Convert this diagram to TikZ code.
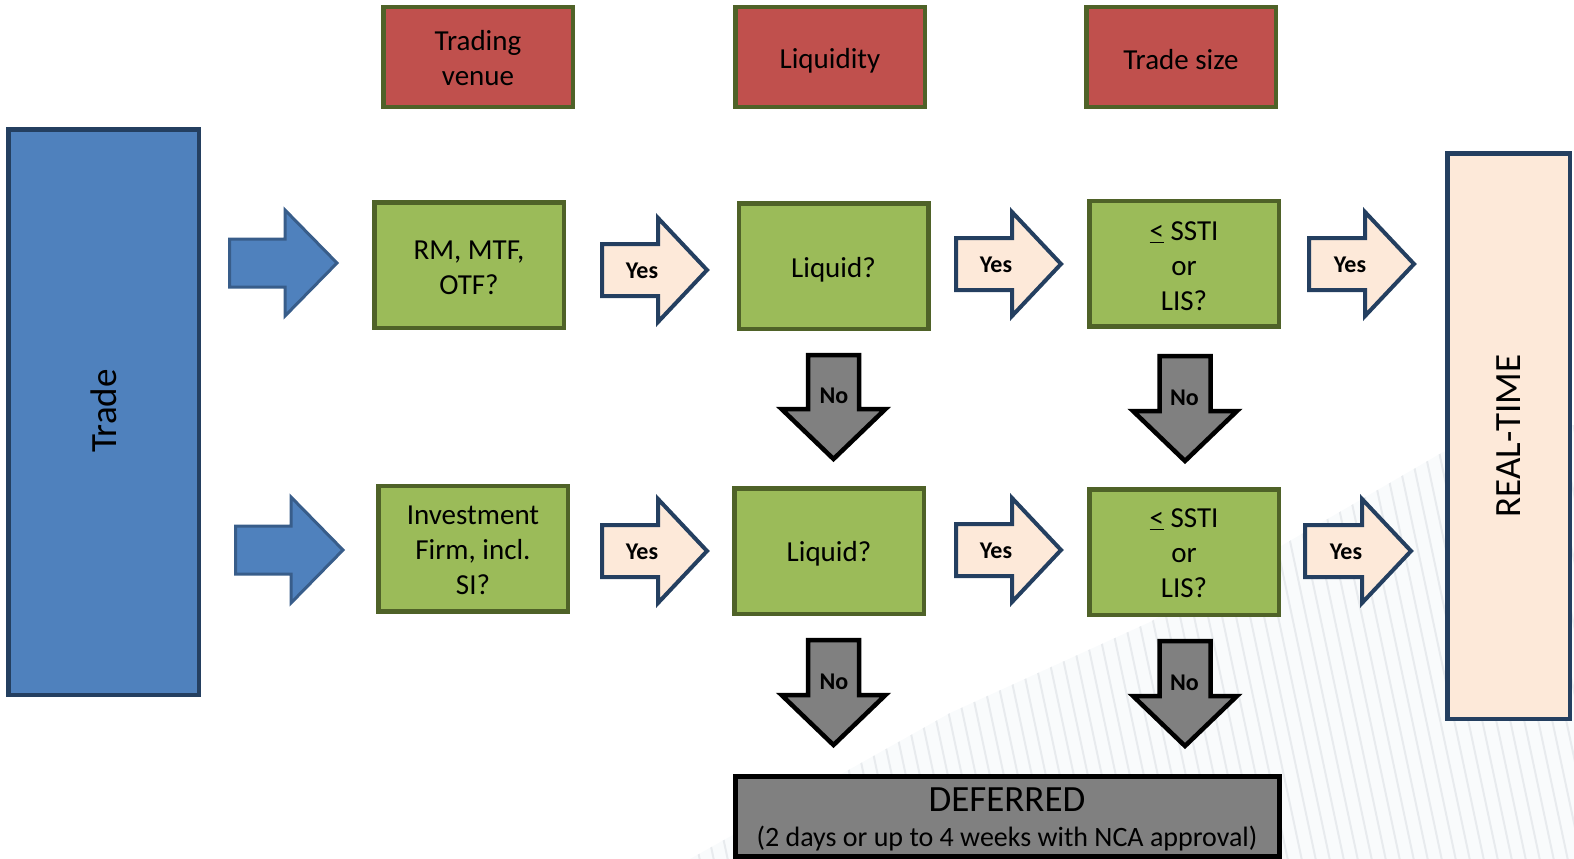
\documentclass[tikz,border=0pt]{standalone}
\usepackage{fontspec}
\setmainfont{Carlito}
\definecolor{hdrred}{HTML}{C0504D}
\definecolor{grnfill}{HTML}{9BBB59}
\definecolor{grnline}{HTML}{4F6228}
\definecolor{bluefill}{HTML}{4F81BD}
\definecolor{blueline}{HTML}{243F60}
\definecolor{bluearr}{HTML}{385D8A}
\definecolor{peach}{HTML}{FDE9D9}
\definecolor{navy}{HTML}{243F60}
\definecolor{greyfill}{HTML}{808080}
\definecolor{bgtint}{HTML}{F9FBFC}
\definecolor{hatchcol}{HTML}{E8EBEE}
\newcommand\RArr[7]{\draw[#1] (#2,#4-#5) -- (#3-#7,#4-#5) -- (#3-#7,#4-#6) -- (#3,#4) -- (#3-#7,#4+#6) -- (#3-#7,#4+#5) -- (#2,#4+#5) -- cycle;}
\newcommand\DArr[7]{\draw[#1] (#2-#5,#3) -- (#2-#5,#4-#7) -- (#2-#6,#4-#7) -- (#2,#4) -- (#2+#6,#4-#7) -- (#2+#5,#4-#7) -- (#2+#5,#3) -- cycle;}
\tikzset{
  txt/.style={font=\fontsize{29}{35}\selectfont, align=center, inner sep=0pt},
  hdr/.style={draw=grnline, fill=hdrred, line width=4.5pt, minimum width=189.5pt, minimum height=100pt, inner sep=0pt},
  qbox/.style={draw=grnline, fill=grnfill, line width=4.5pt, minimum width=189.5pt, minimum height=125.5pt, inner sep=0pt},
  bluearrow/.style={draw=bluearr, fill=bluefill, line width=3pt},
  yesarrow/.style={draw=navy, fill=peach, line width=4pt},
  noarrow/.style={draw=black, fill=greyfill, line width=4.5pt},
  arrlbl/.style={font=\bfseries\fontsize{24}{28}\selectfont, inner sep=0pt},
  hatch/.style={draw=hatchcol, line width=2pt}
}
\begin{document}
\begin{tikzpicture}[x=1pt,y=-1pt]
\useasboundingbox (0,0) rectangle (1574,859);
% background hatching
\begin{scope}
\clip (690,859) -- (950,713) -- (1150,622) -- (1443,452) -- (1574,425) -- (1574,859) -- cycle;
\fill[bgtint] (690,400) rectangle (1574,859);
\foreach \i in {0,...,80} { \draw[hatch] (560+\i*14,400) -- ++(100,470); }
\end{scope}
% big side boxes
\node[draw=blueline, fill=bluefill, line width=4.5pt, minimum width=190.5pt, minimum height=565.5pt, inner sep=0pt] (trade) at (103.5,412) {};
\node[rotate=90, font=\fontsize{37}{44}\selectfont] (tradelbl) at (103.5,411) {Trade};
\node[draw=navy, fill=peach, line width=4.5pt, minimum width=122.5pt, minimum height=565.5pt, inner sep=0pt] (rt) at (1508.5,436) {};
\node[rotate=90, font=\fontsize{37}{44}\selectfont] (rtlbl) at (1509,436) {REAL-TIME};
% headers
\node[hdr] (h1) at (478,57) {};
\node[hdr] (h2) at (830,57) {};
\node[hdr] (h3) at (1181,57) {};
\node[txt] (h1t) at (478,58.5) {Trading\\venue};
\node[txt] (h2t) at (830,61) {Liquidity};
\node[txt] (h3t) at (1181,60) {Trade size};
% question boxes
\node[qbox] (rm) at (469,265) {};
\node[qbox] (liq1) at (833.5,266) {};
\node[qbox] (ss1) at (1184,263.5) {};
\node[qbox] (inv) at (473,548.5) {};
\node[qbox] (liq2) at (829,551) {};
\node[qbox] (ss2) at (1184,552) {};
\node[txt] (rmt) at (469,268) {RM, MTF,\\OTF?};
\node[txt] (liq1t) at (833.5,270) {Liquid?};
\node[txt] (ss1t) at (1184,266) {\underline{<} SSTI\\or\\LIS?};
\node[txt] (invt) at (473,550.5) {Investment\\Firm, incl.\\SI?};
\node[txt] (liq2t) at (829,554) {Liquid?};
\node[txt] (ss2t) at (1184,553.5) {\underline{<} SSTI\\or\\LIS?};
% deferred
\node[draw=black, fill=greyfill, line width=5pt, minimum width=544pt, minimum height=80pt, inner sep=0pt] (def) at (1007.5,816.5) {};
\node[font=\fontsize{37}{44}\selectfont, inner sep=0pt] (deft) at (1007,800) {DEFERRED};
\node[font=\fontsize{28}{33}\selectfont, inner sep=0pt] (defs) at (1007,839) {(2 days or up to 4 weeks with NCA approval)};
% blue arrows
\RArr{bluearrow}{229.5}{337}{263}{24}{53}{52}
\RArr{bluearrow}{235.5}{343}{550}{24}{53}{52}
% yes arrows
\RArr{yesarrow}{602}{707}{270}{26}{52}{49}
\RArr{yesarrow}{956}{1061}{264}{26}{52}{49}
\RArr{yesarrow}{1309}{1414}{264}{26}{52}{49}
\RArr{yesarrow}{602}{707}{551}{26}{52}{49}
\RArr{yesarrow}{956}{1061}{550}{26}{52}{49}
\RArr{yesarrow}{1305}{1411}{551}{26}{52}{49}
\node[arrlbl] (y1) at (642,271) {Yes};
\node[arrlbl] (y2) at (996,265) {Yes};
\node[arrlbl] (y3) at (1350,265) {Yes};
\node[arrlbl] (y4) at (642,552) {Yes};
\node[arrlbl] (y5) at (996,551) {Yes};
\node[arrlbl] (y6) at (1346,552) {Yes};
% no arrows
\DArr{noarrow}{833.5}{355}{459}{25.5}{52}{50}
\DArr{noarrow}{1185}{356}{461}{25.5}{52}{50}
\DArr{noarrow}{833.5}{640}{745}{25.5}{52}{50}
\DArr{noarrow}{1185}{641}{746}{25.5}{52}{50}
\node[arrlbl] (n1) at (834,395.5) {No};
\node[arrlbl] (n2) at (1184.5,397.5) {No};
\node[arrlbl] (n3) at (834,681.5) {No};
\node[arrlbl] (n4) at (1184.5,682.5) {No};
\end{tikzpicture}
\end{document}
